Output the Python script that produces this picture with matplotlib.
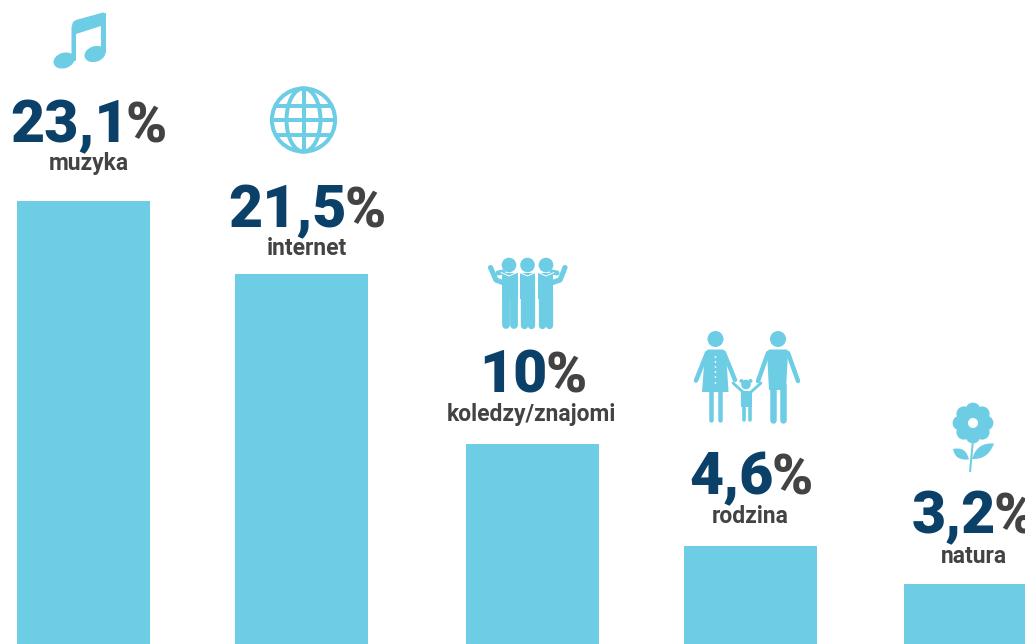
import math
import matplotlib
matplotlib.use("Agg")
import matplotlib.pyplot as plt
from matplotlib.patches import Circle, Ellipse, Polygon, PathPatch, Rectangle
from matplotlib.path import Path

categories = ["muzyka", "internet", "koledzy/znajomi", "rodzina", "natura"]
value_labels = ["23,1", "21,5", "10", "4,6", "3,2"]
bar_heights = [443, 370, 200, 98, 60]   # drawn heights
bar_centers = [83.5, 301.5, 532.5, 750.5, 970.5]

BLUE = "#6dcde5"
NAVY = "#0b4068"
GRAY = "#434343"
W, H = 1025, 644

plt.rcParams["font.family"] = ["Roboto", "DejaVu Sans"]
fig = plt.figure(figsize=(W / 100, H / 100), dpi=100, facecolor="white")

ax = fig.add_axes([0, 0, 1, 1])
ax.set_xlim(0, W)
ax.set_ylim(0, H)
ax.axis("off")
ax.bar(bar_centers, bar_heights, width=133, color=BLUE, linewidth=0)

ov = fig.add_axes([0, 0, 1, 1])
ov.set_xlim(0, W)
ov.set_ylim(H, 0)
ov.axis("off")
ov.patch.set_alpha(0)

PX = 0.72


def line(pts, w, color=BLUE, cap="round", z=3):
    xs, ys = zip(*pts)
    ov.plot(xs, ys, color=color, lw=w * PX, solid_capstyle=cap, solid_joinstyle="round", zorder=z)


def poly(pts, color=BLUE, z=3):
    ov.add_patch(Polygon(pts, closed=True, fc=color, ec="none", zorder=z))


def circ(x, y, r, color=BLUE, z=3):
    ov.add_patch(Circle((x, y), r, fc=color, ec="none", zorder=z))


# value labels and category labels
num_right = [128.5, 347, 547.5, 773.5, 996]
pct_left = [125.5, 344.5, 545.5, 771, 994]
num_base = [142, 227, 392, 494, 533]
lab_x = [88.5, 307, 531.5, 750, 973.5]
lab_base = [170, 255, 421, 523, 563]
for nr, pl, b, lx, lb, v, c in zip(num_right, pct_left, num_base, lab_x, lab_base, value_labels, categories):
    ov.text(nr, b, v, ha="right", va="baseline", fontsize=42.5, fontweight="black", color=NAVY)
    ov.text(pl, b, "%", ha="left", va="baseline", fontsize=40, fontweight="black", color=GRAY)
    ov.text(lx, lb, c, ha="center", va="baseline", fontsize=16.5, fontweight="bold", color=GRAY)

# music note
poly([(71.5, 61), (71.5, 27), (73, 22), (76, 20), (103, 12.5), (106, 13.5), (106, 53),
      (101, 53), (101, 26), (76, 34), (76, 61)])
ov.add_patch(Ellipse((64, 60.5), 21.5, 15.5, angle=-18, fc=BLUE, ec="none", zorder=3))
ov.add_patch(Ellipse((95, 54), 21.5, 15.5, angle=-18, fc=BLUE, ec="none", zorder=3))

# globe
gx, gy, gr = 303.5, 120, 31.6
clip = Circle((gx, gy), gr, transform=ov.transData)
ov.add_patch(Circle((gx, gy), gr, fc="none", ec=BLUE, lw=4 * PX, zorder=3))
ov.add_patch(Ellipse((gx, gy), 34, 2 * gr, fc="none", ec=BLUE, lw=4 * PX, zorder=3))
line([(gx, gy - gr), (gx, gy + gr)], 4, cap="butt")
for yy in (105.5, 120, 134.5):
    l, = ov.plot([gx - gr, gx + gr], [yy, yy], color=BLUE, lw=4 * PX, zorder=3)
    l.set_clip_path(clip)

# friends
for hx, bx0, bx1 in ((509, 502, 518), (527.5, 520, 535), (546, 538, 553)):
    ov.add_patch(Rectangle((bx0, 273), bx1 - bx0, 26, fc=BLUE, ec="none", zorder=3))
    mid = (bx0 + bx1) / 2
    w = (bx1 - bx0) / 2 - 0.2
    line([(mid - w / 2, 295), (mid - w / 2, 325)], w)
    line([(mid + w / 2, 295), (mid + w / 2, 325)], w)
    line([(hx - 8, 272.5), (hx, 276), (hx + 8, 272.5)], 1, color="white", z=4)
    circ(hx, 265, 7.3, z=5)
line([(504, 283), (496, 280), (490.5, 267.5)], 5.2)
line([(551, 283), (560, 280), (565, 267.5)], 5.2)
line([(498, 273), (503, 272)], 5)
line([(557, 273), (552, 272)], 5)

# family: woman
circ(715.5, 339, 8)
poly([(708, 349.5), (723, 349.5), (726, 352), (728.5, 392), (702, 392), (705, 352)])
line([(707, 353), (696, 380.5)], 4.5)
line([(724, 353), (735, 380)], 4.5)
line([(711, 392), (711, 420)], 4.5)
line([(720, 392), (720, 420)], 4.5)
for yy in (357, 362, 367, 372, 377, 383):
    circ(715.5, yy, 0.9, color="white", z=4)
# family: man
circ(778, 339, 8)
poly([(769, 349.5), (787, 349.5), (788, 352), (786, 390), (769, 390), (767, 352)])
line([(768, 353), (758, 381)], 4.5)
line([(788, 353), (798, 381)], 4.5)
line([(772.5, 385), (772.5, 420)], 6.5)
line([(783, 385), (783, 420)], 6.5)
# family: child
circ(746, 384.5, 4.8)
circ(741.5, 381, 2)
circ(750.5, 381, 2)
poly([(741, 391), (752, 391), (752, 407), (741, 407)])
line([(733, 383), (743, 392)], 2.8)
line([(761, 383), (751, 392)], 2.8)
line([(743.5, 405), (743.5, 420)], 3.6)
line([(749.5, 405), (749.5, 420)], 3.6)

# flower
fx, fy = 973, 423
for k in range(8):
    a = math.radians(k * 45 + 90)
    circ(fx + 13 * math.cos(a), fy + 13 * math.sin(a), 7.4)
circ(fx, fy, 10)
circ(fx, fy, 5, color="white", z=4)
line([(973, 440), (970, 472)], 2, cap="butt")


def leaf(p0, c1, p1, c2):
    verts = [p0, c1, p1, c2, p0, p0]
    codes = [Path.MOVETO, Path.CURVE3, Path.CURVE3, Path.CURVE3, Path.CURVE3, Path.CLOSEPOLY]
    ov.add_patch(PathPatch(Path(verts, codes), fc=BLUE, ec="none", zorder=3))


leaf((969, 459.5), (966, 446), (953, 449), (955, 461))
leaf((972, 459), (977, 442), (994, 443.5), (988, 460))

fig.savefig("out.png", dpi=100, facecolor="white")
